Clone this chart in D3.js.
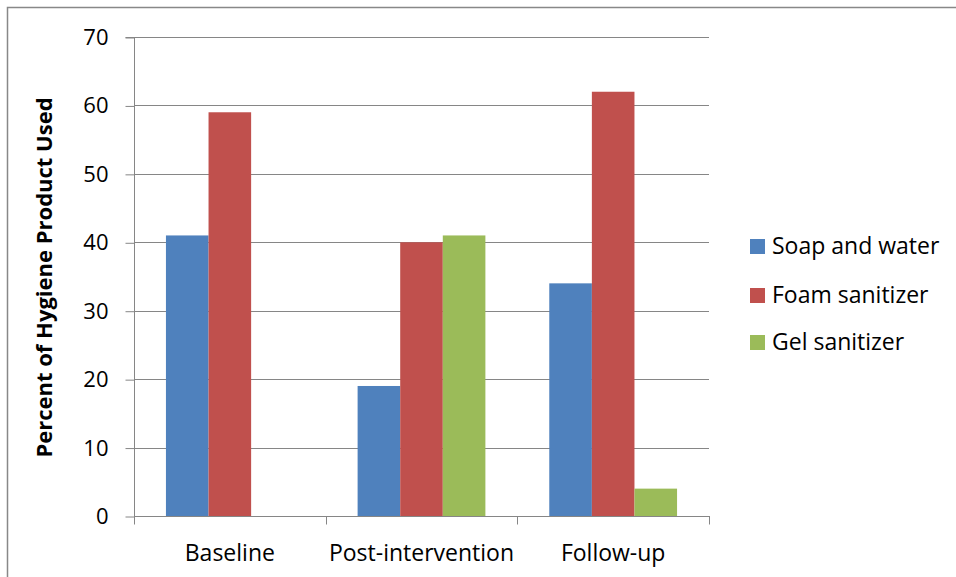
<!DOCTYPE html>
<html><head><meta charset="utf-8">
<script src="https://cdn.jsdelivr.net/npm/d3@7"></script>
<style>body{margin:0;background:#fff}svg{display:block}</style>
</head><body>
<script>
const categories = ["Baseline", "Post-intervention", "Follow-up"];
const seriesNames = ["Soap and water", "Foam sanitizer", "Gel sanitizer"];
const soapValues = [41, 19, 34];
const foamValues = [59, 40, 62];
const gelValues = [0, 41, 4];
const yTicks = [0, 10, 20, 30, 40, 50, 60, 70];
const colors = ["#4F81BD", "#C0504D", "#9BBB59"];
const allSeries = [soapValues, foamValues, gelValues];

const W = 956, H = 577;
const font = "'Open Sans', 'Noto Sans', sans-serif";
const svg = d3.select("body").append("svg").attr("width", W).attr("height", H);

// outer frame
svg.append("rect").attr("x", 7.5).attr("y", 7.5).attr("width", W + 10).attr("height", H + 10)
  .attr("fill", "none").attr("stroke", "#888").attr("stroke-width", 1.5);

const pL = 134, pR = 709, pT = 37, pB = 516;
const x = d3.scaleBand().domain(categories).range([pL, pR]);
const y = d3.scaleLinear().domain([0, 70]).range([pB, pT]);
const inner = d3.scaleBand().domain(d3.range(3)).range([0, x.bandwidth()]).paddingInner(0).paddingOuter(0.75);

// gridlines
svg.append("g").selectAll("line").data(yTicks.filter(t => t > 0)).join("line")
  .attr("x1", pL).attr("x2", pR)
  .attr("y1", d => Math.round(y(d)) + 0.5).attr("y2", d => Math.round(y(d)) + 0.5)
  .attr("stroke", "#868686").attr("stroke-width", 1);

// bars
categories.forEach((c, ci) => {
  allSeries.forEach((s, si) => {
    const v = s[ci];
    if (v <= 0) return;
    svg.append("rect")
      .attr("x", x(c) + inner(si)).attr("width", inner.bandwidth())
      .attr("y", y(v)).attr("height", y(0) - y(v))
      .attr("fill", colors[si]);
  });
});

// y axis
const yAxis = d3.axisLeft(y).tickValues(yTicks).tickSize(9).tickPadding(17).tickFormat(d3.format("d"));
const gy = svg.append("g").attr("transform", `translate(${pL + 0.5},0.5)`).call(yAxis);
gy.select(".domain").attr("stroke", "#868686").attr("d", `M-9,${pT}H0V${pB}`);
gy.selectAll(".tick line").attr("stroke", "#868686");
gy.selectAll(".tick text").attr("font-family", font).attr("font-size", 22).attr("fill", "#000");

// x axis
const gx = svg.append("g").attr("transform", `translate(0,${pB + 0.5})`);
gx.append("line").attr("x1", pL).attr("x2", pR + 1).attr("y1", 0).attr("y2", 0).attr("stroke", "#868686");
const bounds = categories.map(c => x(c)).concat([x(categories[categories.length - 1]) + x.bandwidth()]);
gx.selectAll("line.tk").data(bounds).join("line").attr("class", "tk")
  .attr("x1", d => Math.round(d) + 0.5).attr("x2", d => Math.round(d) + 0.5)
  .attr("y1", 0).attr("y2", 8).attr("stroke", "#868686");
gx.selectAll("text").data(categories).join("text")
  .attr("x", d => x(d) + x.bandwidth() / 2).attr("y", 44)
  .attr("text-anchor", "middle").attr("font-family", font).attr("font-size", 23).attr("fill", "#000")
  .text(d => d);

// y title
svg.append("text").attr("transform", `translate(52,${(95 + 460) / 2}) rotate(-90)`)
  .attr("text-anchor", "middle").attr("font-family", font).attr("font-size", 22).attr("font-weight", "bold")
  .text("Percent of Hygiene Product Used");

// legend
const lg = svg.append("g");
const legendBase = [254, 303, 350];
seriesNames.forEach((n, i) => {
  lg.append("rect").attr("x", 750).attr("y", legendBase[i] - 15).attr("width", 15).attr("height", 15).attr("fill", colors[i]);
  lg.append("text").attr("x", 772).attr("y", legendBase[i])
    .attr("font-family", font).attr("font-size", 23).attr("fill", "#000").text(n);
});
</script>
</body></html>
